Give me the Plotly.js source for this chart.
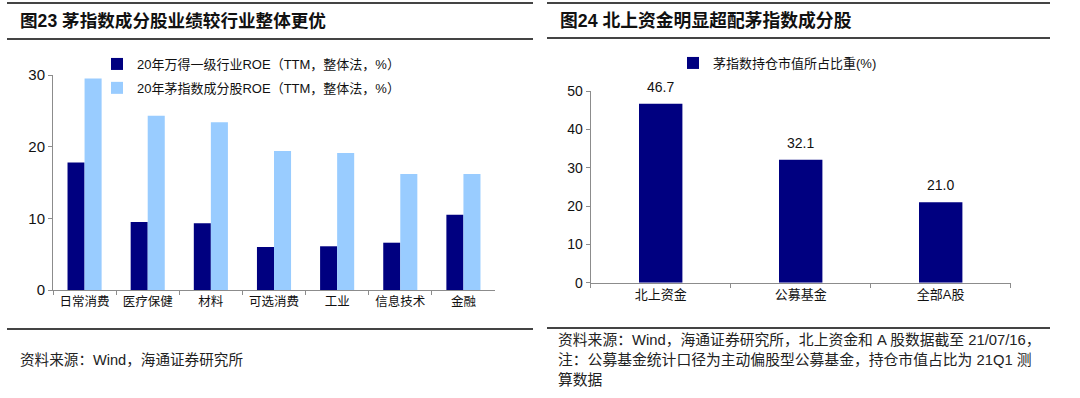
<!DOCTYPE html>
<html>
<head>
<meta charset="utf-8">
<script src="https://cdn.plot.ly/plotly-3.0.1.min.js"></script>
<style>html,body{margin:0;padding:0;background:#fff;}#chart{width:1080px;height:398px;}</style>
</head>
<body>
<div id="chart"></div>
<script>
// ---- Data ----
const industries = ["日常消费", "医疗保健", "材料", "可选消费", "工业", "信息技术", "金融"];
const industryROE = [17.8, 9.5, 9.3, 6.0, 6.1, 6.6, 10.5];
const maoROE = [29.5, 24.3, 23.4, 19.4, 19.1, 16.2, 16.2];
const seriesNamesLeft = ["20年万得一级行业ROE（TTM，整体法，%）", "20年茅指数成分股ROE（TTM，整体法，%）"];

const holders = ["北上资金", "公募基金", "全部A股"];
const maoWeight = [46.7, 32.1, 21.0];
const seriesNameRight = "茅指数持仓市值所占比重(%)";

const titleLeft = "图23 茅指数成分股业绩较行业整体更优";
const titleRight = "图24 北上资金明显超配茅指数成分股";
const sourceLeft = "资料来源：Wind，海通证券研究所";
const sourceRight = [
  "资料来源：Wind，海通证券研究所，北上资金和 A 股数据截至 21/07/16，",
  "注：公募基金统计口径为主动偏股型公募基金，持仓市值占比为 21Q1 测",
  "算数据"
];

// ---- Styling ----
const FONT = "Liberation Sans, Arial, Noto Sans CJK SC, sans-serif";
const NAVY = "#000080";
const LIGHT = "#99CCFF";
const AXIS = "#8c8c8c";
const W = 1080, H = 398;
const px = v => v / W;
const py = v => 1 - v / H;

const traces = [
  {type: "bar", x: industries, y: industryROE, name: seriesNamesLeft[0], marker: {color: NAVY},
   xaxis: "x", yaxis: "y", legend: "legend", legendgroup: "a", hoverinfo: "x+y"},
  {type: "bar", x: industries, y: maoROE, name: seriesNamesLeft[1], marker: {color: LIGHT},
   xaxis: "x", yaxis: "y", legend: "legend", legendgroup: "b", hoverinfo: "x+y"},
  {type: "bar", x: holders, y: maoWeight, name: seriesNameRight, marker: {color: NAVY}, width: 0.31,
   xaxis: "x2", yaxis: "y2", legend: "legend2", hoverinfo: "x+y"}
];

const annotations = [
  {text: "<b>" + titleLeft + "</b>", xref: "paper", yref: "paper", x: px(18), y: py(21), xanchor: "left", yanchor: "middle",
   showarrow: false, font: {family: FONT, size: 17.6, color: "#111"}},
  {text: "<b>" + titleRight + "</b>", xref: "paper", yref: "paper", x: px(558), y: py(21), xanchor: "left", yanchor: "middle",
   showarrow: false, font: {family: FONT, size: 17.8, color: "#111"}},
  {text: sourceLeft, xref: "paper", yref: "paper", x: px(18), y: py(360), xanchor: "left", yanchor: "middle",
   showarrow: false, font: {family: FONT, size: 14.6, color: "#222"}}
];
sourceRight.forEach((t, i) => annotations.push({
  text: t, xref: "paper", yref: "paper", x: px(556), y: py(340 + i * 20), xanchor: "left", yanchor: "middle",
  showarrow: false, font: {family: FONT, size: 14.8, color: "#222"}
}));
holders.forEach((h, i) => annotations.push({
  text: maoWeight[i].toFixed(1), x: h, y: maoWeight[i], xref: "x2", yref: "y2", yanchor: "middle", yshift: 17,
  showarrow: false, font: {family: FONT, size: 14, color: "#111"}
}));

const line = (x0, x1, y) => ({type: "line", xref: "paper", yref: "paper", x0: px(x0), x1: px(x1), y0: py(y), y1: py(y),
  line: {color: "#444", width: 2}});
const shapes = [
  line(7, 533, 3), line(7, 533, 39), line(7, 533, 329),
  line(547, 1050, 3), line(547, 1050, 38), line(547, 1050, 328)
];

const axisCommon = {showgrid: false, zeroline: false, showline: true, linecolor: AXIS, linewidth: 1,
  ticks: "outside", ticklen: 4, tickcolor: AXIS, fixedrange: true};

const layout = {
  width: W, height: H, margin: {l: 0, r: 0, t: 0, b: 0},
  paper_bgcolor: "#fff", plot_bgcolor: "#fff",
  font: {family: FONT, color: "#111"},
  barmode: "group", bargap: 0.46, bargroupgap: 0,
  showlegend: true,
  xaxis: Object.assign({}, axisCommon, {domain: [px(53), px(495)], anchor: "y", type: "category",
    tickson: "boundaries", tickfont: {size: 12.5, family: FONT}}),
  yaxis: Object.assign({}, axisCommon, {domain: [py(290), py(75)], anchor: "x", range: [0, 30], dtick: 10,
    tickfont: {size: 15, family: FONT}}),
  xaxis2: Object.assign({}, axisCommon, {domain: [px(590.7), px(1010.7)], anchor: "y2", type: "category",
    tickson: "boundaries", tickfont: {size: 13, family: FONT}}),
  yaxis2: Object.assign({}, axisCommon, {domain: [py(282.7), py(91)], anchor: "x2", range: [0, 50], dtick: 10,
    tickfont: {size: 14, family: FONT}}),
  legend: {x: px(97), y: py(49), xanchor: "left", yanchor: "top", bgcolor: "rgba(0,0,0,0)",
    font: {size: 13, family: FONT, color: "#111"}, tracegroupgap: 4, traceorder: "grouped"},
  legend2: {x: px(673), y: py(48), xanchor: "left", yanchor: "top", bgcolor: "rgba(0,0,0,0)",
    font: {size: 13, family: FONT, color: "#111"}},
  annotations: annotations,
  shapes: shapes
};

Plotly.newPlot("chart", traces, layout, {displayModeBar: false, staticPlot: true});
</script>
</body>
</html>
